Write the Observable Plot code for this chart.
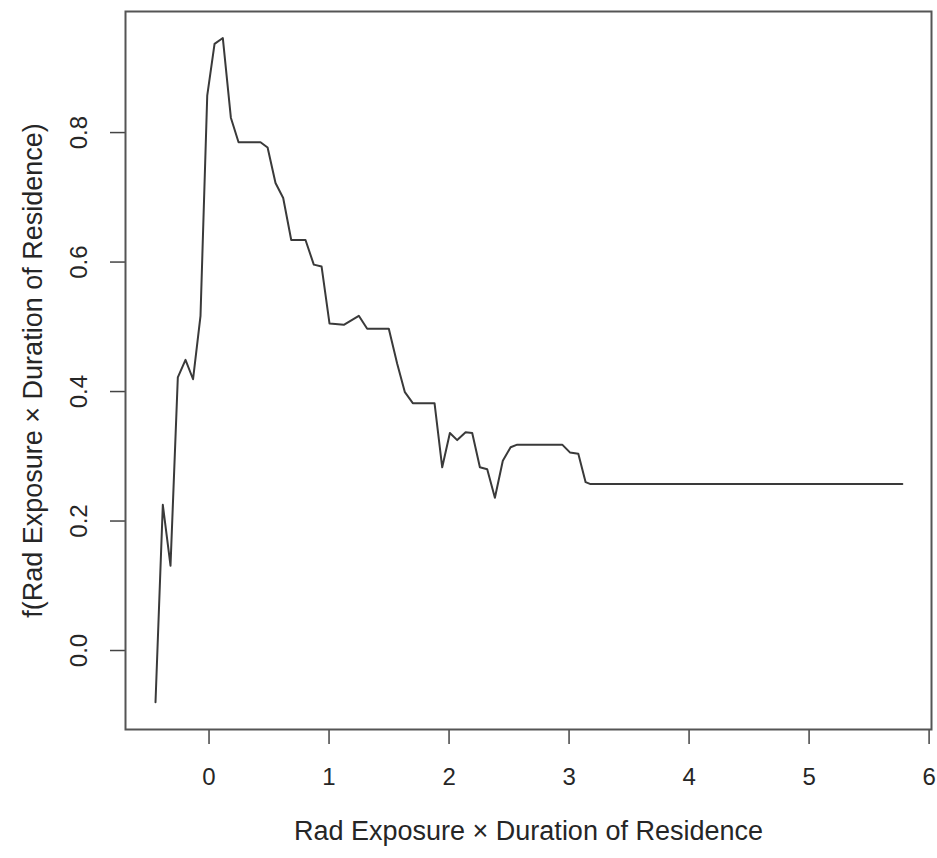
<!DOCTYPE html>
<html>
<head>
<meta charset="utf-8">
<script src="https://cdn.jsdelivr.net/npm/d3@7"></script>
<script src="https://cdn.jsdelivr.net/npm/@observablehq/plot@0.6"></script>
<style>
  html, body { margin: 0; padding: 0; background: #fff; }
  #chart svg { display: block; }
</style>
</head>
<body>
<div id="chart"></div>
<script>
// Estimated smooth term f(Rad Exposure × Duration of Residence)
const exposure = [
  -0.446, -0.385, -0.321, -0.260, -0.196, -0.133, -0.071, -0.015, 0.046, 0.115,
  0.182, 0.246, 0.429, 0.488, 0.554, 0.618, 0.685, 0.804, 0.873, 0.938,
  1.004, 1.123, 1.248, 1.318, 1.498, 1.568, 1.632, 1.698, 1.879, 1.943,
  2.007, 2.068, 2.138, 2.193, 2.257, 2.318, 2.382, 2.448, 2.513, 2.568,
  2.943, 3.007, 3.077, 3.138, 3.179, 5.777
];
const effect = [
  -0.080, 0.225, 0.131, 0.422, 0.449, 0.419, 0.517, 0.857, 0.937, 0.946,
  0.823, 0.785, 0.785, 0.777, 0.722, 0.699, 0.634, 0.634, 0.596, 0.593,
  0.505, 0.503, 0.517, 0.497, 0.497, 0.443, 0.399, 0.382, 0.382, 0.283,
  0.336, 0.325, 0.337, 0.336, 0.283, 0.280, 0.236, 0.293, 0.314, 0.318,
  0.318, 0.306, 0.304, 0.260, 0.257, 0.257
];
const xTicks = [0, 1, 2, 3, 4, 5, 6];
const yTicks = [0, 0.2, 0.4, 0.6, 0.8];
const xTitle = "Rad Exposure \u00d7 Duration of Residence";
const yTitle = "f(Rad Exposure \u00d7 Duration of Residence)";

const data = exposure.map((x, i) => ({x, y: effect[i]}));

const ink = "#262626";
const chart = Plot.plot({
  width: 937,
  height: 858,
  marginLeft: 125,
  marginRight: 6,
  marginTop: 11,
  marginBottom: 129,
  style: {fontFamily: "'Liberation Sans', Arial, sans-serif", color: ink, background: "#fff"},
  x: {domain: [-0.696, 6.02]},
  y: {domain: [-0.122, 0.987]},
  marks: [
    Plot.axisX({
      ticks: xTicks, tickSize: 15, tickPadding: 23, fontSize: 24,
      tickFormat: d => String(d), label: null, stroke: "#444", strokeWidth: 1.5
    }),
    Plot.axisY({
      ticks: yTicks, tickSize: 15, tickPadding: 24, fontSize: 24, tickRotate: -90,
      tickFormat: d => d.toFixed(1), label: null, stroke: "#444", strokeWidth: 1.5
    }),
    Plot.frame({stroke: "#555", strokeWidth: 2}),
    Plot.line(data, {x: "x", y: "y", stroke: "#3a3a3a", strokeWidth: 2}),
    Plot.text([xTitle], {frameAnchor: "bottom", dy: 110, fontSize: 27, fill: ink}),
    Plot.text([yTitle], {frameAnchor: "left", dx: -92, rotate: -90, textAnchor: "middle", fontSize: 27, fill: ink})
  ]
});
document.getElementById("chart").appendChild(chart);
</script>
</body>
</html>
